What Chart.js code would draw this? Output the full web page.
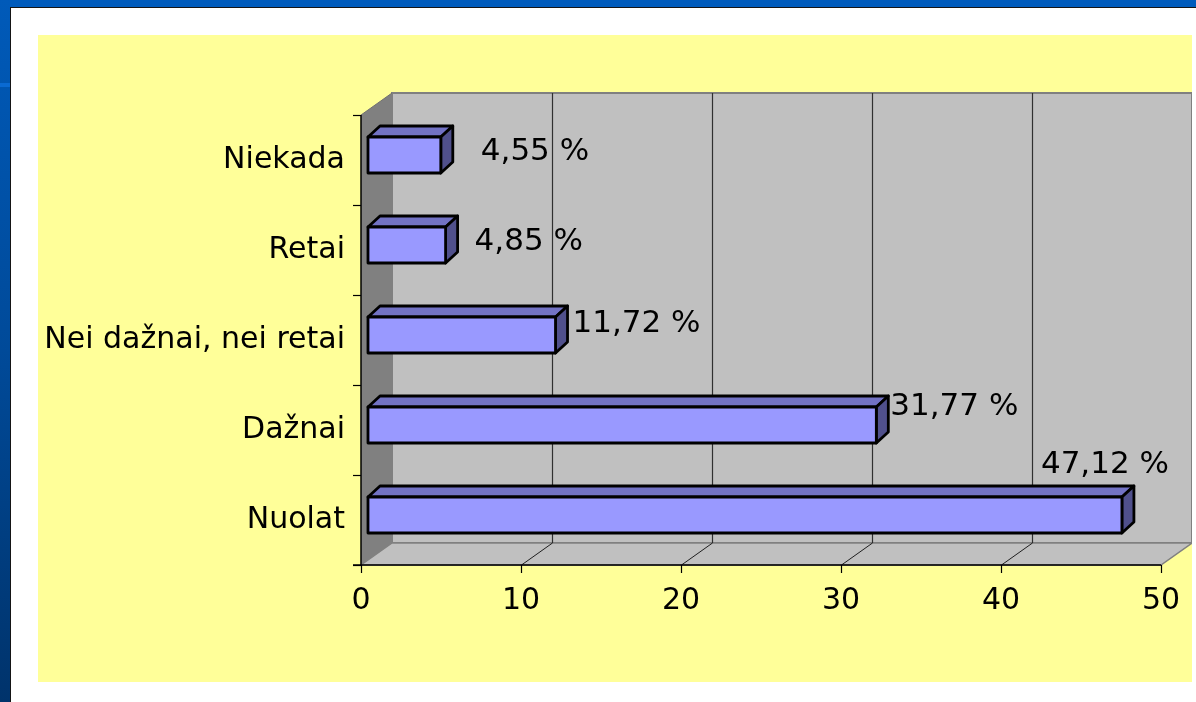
<!DOCTYPE html>
<html>
<head>
<meta charset="utf-8">
<script src="https://cdn.jsdelivr.net/npm/chart.js@4.4.1/dist/chart.umd.min.js"></script>
<style>
	html, body { margin: 0; padding: 0; }
	body { width: 1196px; height: 702px; position: relative; overflow: hidden; background: #005bbc; }
	#side { position: absolute; left: 0; top: 0; width: 10px; height: 702px; background: linear-gradient(#005ab9, #004a99 50%, #00336b); }
	#stripe { position: absolute; left: 0; top: 83px; width: 10px; height: 4px; background: #0a6ad2; }
	#sheet { position: absolute; left: 10px; top: 7px; right: 0; bottom: 0; background: #fff; border-left: 1px solid #151515; border-top: 1px solid #151515; }
	#panel { position: absolute; left: 38px; top: 35px; width: 1154px; height: 647px; background: #ffff99; }
	#panel canvas { display: block; }
</style>
</head>
<body>
<div id="side"></div>
<div id="stripe"></div>
<div id="sheet"></div>
<div id="panel"><canvas id="chart" width="1154" height="647"></canvas></div>
<script>
'use strict';
// data
var categories = ['Niekada', 'Retai', 'Nei dažnai, nei retai', 'Dažnai', 'Nuolat'];
var percents = [4.55, 4.85, 11.72, 31.77, 47.12];
var valueTicks = [0, 10, 20, 30, 40, 50];

var FONT = 'DejaVu Sans';
var DEPTH_X = 31, DEPTH_Y = 22;     // back wall offset
var BAR_DX = 12, BAR_DY = 11;       // bar depth
var BAR_SHIFT_X = 7, BAR_SHIFT_Y = -5;

function fmt(v) {
	return v.toFixed(2).replace('.', ',') + ' %';
}

function poly(ctx, pts, fill, stroke, lw) {
	ctx.beginPath();
	ctx.moveTo(pts[0][0], pts[0][1]);
	for (var i = 1; i < pts.length; i++) ctx.lineTo(pts[i][0], pts[i][1]);
	ctx.closePath();
	if (fill) { ctx.fillStyle = fill; ctx.fill(); }
	if (stroke) { ctx.strokeStyle = stroke; ctx.lineWidth = lw || 1; ctx.stroke(); }
}

function line(ctx, x1, y1, x2, y2, color, lw) {
	ctx.beginPath();
	ctx.moveTo(x1, y1);
	ctx.lineTo(x2, y2);
	ctx.strokeStyle = color;
	ctx.lineWidth = lw || 1;
	ctx.stroke();
}

var walls = {
	id: 'walls',
	beforeDatasetsDraw: function (chart) {
		var ctx = chart.ctx, a = chart.chartArea, xs = chart.scales.x;
		var L = a.left, R = a.right, T = a.top, B = a.bottom;
		ctx.save();
		// back wall
		poly(ctx, [[L + DEPTH_X, T - DEPTH_Y], [R + DEPTH_X, T - DEPTH_Y], [R + DEPTH_X, B - DEPTH_Y], [L + DEPTH_X, B - DEPTH_Y]], '#c0c0c0', '#808080', 2);
		// floor
		poly(ctx, [[L, B], [L + DEPTH_X, B - DEPTH_Y], [R + DEPTH_X, B - DEPTH_Y], [R, B]], '#c0c0c0', '#808080', 1.5);
		// left wall
		poly(ctx, [[L, T], [L + DEPTH_X, T - DEPTH_Y], [L + DEPTH_X, B - DEPTH_Y], [L, B]], '#808080', null);
		line(ctx, L, T, L + DEPTH_X, T - DEPTH_Y, '#707070', 1);
		// grid lines on wall and floor
		valueTicks.forEach(function (v) {
			if (v === valueTicks[0] || v === valueTicks[valueTicks.length - 1]) return;
			var px = Math.round(xs.getPixelForValue(v)) + 0.5;
			line(ctx, px + DEPTH_X, T - DEPTH_Y, px + DEPTH_X, B - DEPTH_Y, '#303030', 1.2);
			line(ctx, px, B, px + DEPTH_X, B - DEPTH_Y, '#202020', 1);
		});
		// axes
		line(ctx, L - 8, B, R, B, '#000', 1.5);
		line(ctx, L, T, L, B, '#000', 1.5);
		valueTicks.forEach(function (v) {
			var px = Math.round(xs.getPixelForValue(v)) + 0.5;
			line(ctx, px, B, px, B + 8, '#000', 1.2);
		});
		var band = (B - T) / categories.length;
		for (var i = 0; i <= categories.length; i++) {
			var py = Math.round(T + i * band) + 0.5;
			line(ctx, L - 8, py, L, py, '#000', 1.2);
		}
		ctx.restore();
	}
};

var bars3d = {
	id: 'bars3d',
	afterDatasetsDraw: function (chart, args, opts) {
		var ctx = chart.ctx, meta = chart.getDatasetMeta(0);
		ctx.save();
		ctx.lineJoin = 'round';
		meta.data.forEach(function (bar, i) {
			var p = bar.getProps(['x', 'y', 'base', 'height'], true);
			var x0 = p.base + BAR_SHIFT_X, x1 = p.x + BAR_SHIFT_X;
			var y0 = p.y - p.height / 2 + BAR_SHIFT_Y, y1 = p.y + p.height / 2 + BAR_SHIFT_Y;
			// top face
			poly(ctx, [[x0, y0], [x0 + BAR_DX, y0 - BAR_DY], [x1 + BAR_DX, y0 - BAR_DY], [x1, y0]], '#7272c4', '#000', 2.8);
			// side face
			poly(ctx, [[x1, y0], [x1 + BAR_DX, y0 - BAR_DY], [x1 + BAR_DX, y1 - BAR_DY], [x1, y1]], '#50508c', '#000', 2.8);
			// front face
			poly(ctx, [[x0, y0], [x1, y0], [x1, y1], [x0, y1]], '#9999ff', '#000', 2.8);
			// value label
			var off = opts.offsets[i];
			ctx.font = '31px "' + FONT + '"';
			ctx.fillStyle = '#000';
			ctx.textAlign = 'left';
			ctx.textBaseline = 'alphabetic';
			ctx.fillText(fmt(percents[i]), x1 + BAR_DX + off[0], p.y + off[1]);
		});
		ctx.restore();
	}
};

new Chart(document.getElementById('chart'), {
	type: 'bar',
	data: {
		labels: categories,
		datasets: [{
			label: 'Atsakymai',
			data: percents,
			backgroundColor: 'rgba(0,0,0,0)',
			borderWidth: 0,
			barThickness: 36
		}]
	},
	options: {
		indexAxis: 'y',
		responsive: false,
		animation: false,
		events: [],
		layout: { padding: { top: 80, right: 31, left: 0, bottom: 0 } },
		plugins: {
			legend: { display: false },
			tooltip: { enabled: false },
			title: { display: false },
			bars3d: { offsets: [[28, 0], [17, 0], [5, -8], [2, -15], [-93, -47]] }
		},
		scales: {
			x: {
				min: valueTicks[0],
				max: valueTicks[valueTicks.length - 1],
				afterBuildTicks: function (s) { s.ticks = valueTicks.map(function (v) { return { value: v }; }); },
				grid: { display: false, drawTicks: false },
				border: { display: false },
				ticks: { color: '#000', font: { family: FONT, size: 30 }, padding: 18, maxRotation: 0 },
				afterFit: function (s) { s.height = 117; s.paddingLeft = 0; s.paddingRight = 0; }
			},
			y: {
				grid: { display: false, drawTicks: false },
				border: { display: false },
				ticks: { color: '#000', font: { family: FONT, size: 30 }, padding: 16 },
				afterFit: function (s) { s.width = 323; s.paddingTop = 0; s.paddingBottom = 0; }
			}
		}
	},
	plugins: [walls, bars3d]
});
</script>
</body>
</html>
